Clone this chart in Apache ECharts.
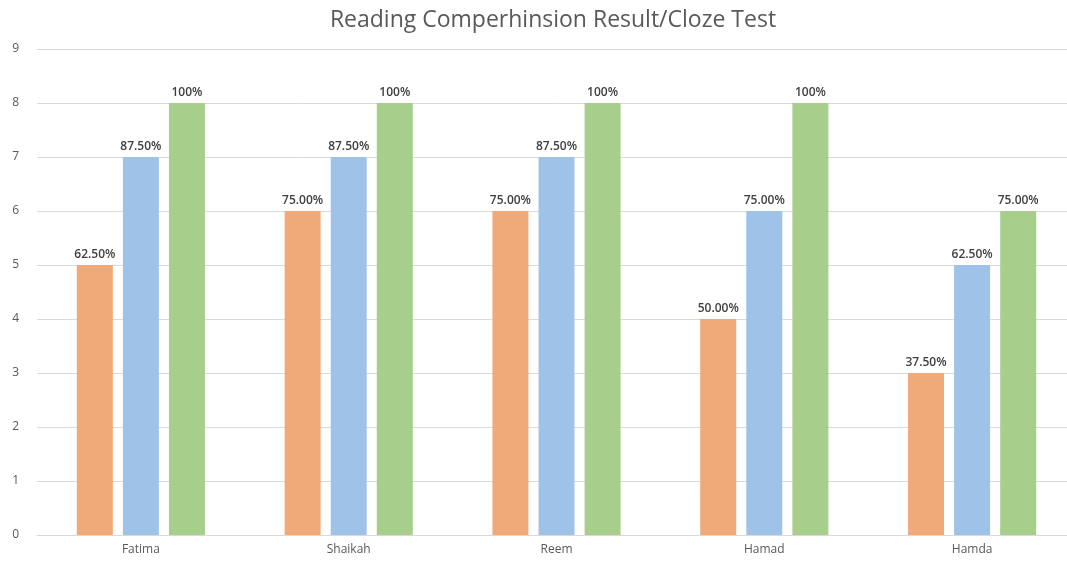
<!DOCTYPE html>
<html>
<head>
<meta charset="utf-8">
<script src="https://cdn.jsdelivr.net/npm/echarts@6/dist/echarts.min.js"></script>
<style>
  html, body { margin: 0; padding: 0; background: #fff; overflow: hidden; }
  /* the original plot runs a little past the right edge of the picture */
  #chart { width: 1076px; height: 564px; }
</style>
</head>
<body>
<div id="chart"></div>
<script>
// students
const students = ['Fatima', 'Shaikah', 'Reem', 'Hamad', 'Hamda'];

// scores for the three bars of each student
const scoreA = [5, 6, 6, 4, 3];
const scoreB = [7, 7, 7, 6, 5];
const scoreC = [8, 8, 8, 8, 6];

// labels shown above the bars
const labelA = ['62.50%', '75.00%', '75.00%', '50.00%', '37.50%'];
const labelB = ['87.50%', '87.50%', '87.50%', '75.00%', '62.50%'];
const labelC = ['100%', '100%', '100%', '100%', '75.00%'];

const yTicks = { min: 0, max: 9, interval: 1 };

const chart = echarts.init(document.getElementById('chart'));

const makeSeries = (name, data, labels, color) => ({
  name: name,
  type: 'bar',
  data: data,
  barWidth: 36,
  barGap: '28%',
  itemStyle: { color: color },
  label: {
    show: true,
    position: 'top',
    distance: 4,
    fontFamily: 'Open Sans',
    fontSize: 12,
    fontWeight: 600,
    color: '#404040',
    formatter: p => labels[p.dataIndex]
  }
});

const option = {
  animation: false,
  backgroundColor: '#fff',
  title: {
    text: 'Reading Comperhinsion Result/Cloze Test',
    left: 548,
    textAlign: 'center',
    top: 4,
    textStyle: {
      fontFamily: 'Open Sans',
      fontSize: 23,
      fontWeight: 'normal',
      color: '#595959'
    }
  },
  grid: {
    left: 37,
    right: 0,
    top: 49,
    bottom: 29
  },
  xAxis: {
    type: 'category',
    data: students,
    axisLine: { lineStyle: { color: '#d9d9d9' } },
    axisTick: { show: false },
    axisLabel: {
      fontFamily: 'Open Sans',
      fontSize: 12,
      color: '#595959',
      margin: 9
    }
  },
  yAxis: {
    type: 'value',
    min: yTicks.min,
    max: yTicks.max,
    interval: yTicks.interval,
    axisLine: { show: false },
    axisTick: { show: false },
    splitLine: { lineStyle: { color: '#d9d9d9' } },
    axisLabel: {
      fontFamily: 'Open Sans',
      fontSize: 12,
      color: '#595959',
      margin: 18
    }
  },
  series: [
    makeSeries('A', scoreA, labelA, '#f0aa7a'),
    makeSeries('B', scoreB, labelB, '#9fc3e8'),
    makeSeries('C', scoreC, labelC, '#a7cf8b')
  ]
};

chart.setOption(option);
</script>
</body>
</html>
